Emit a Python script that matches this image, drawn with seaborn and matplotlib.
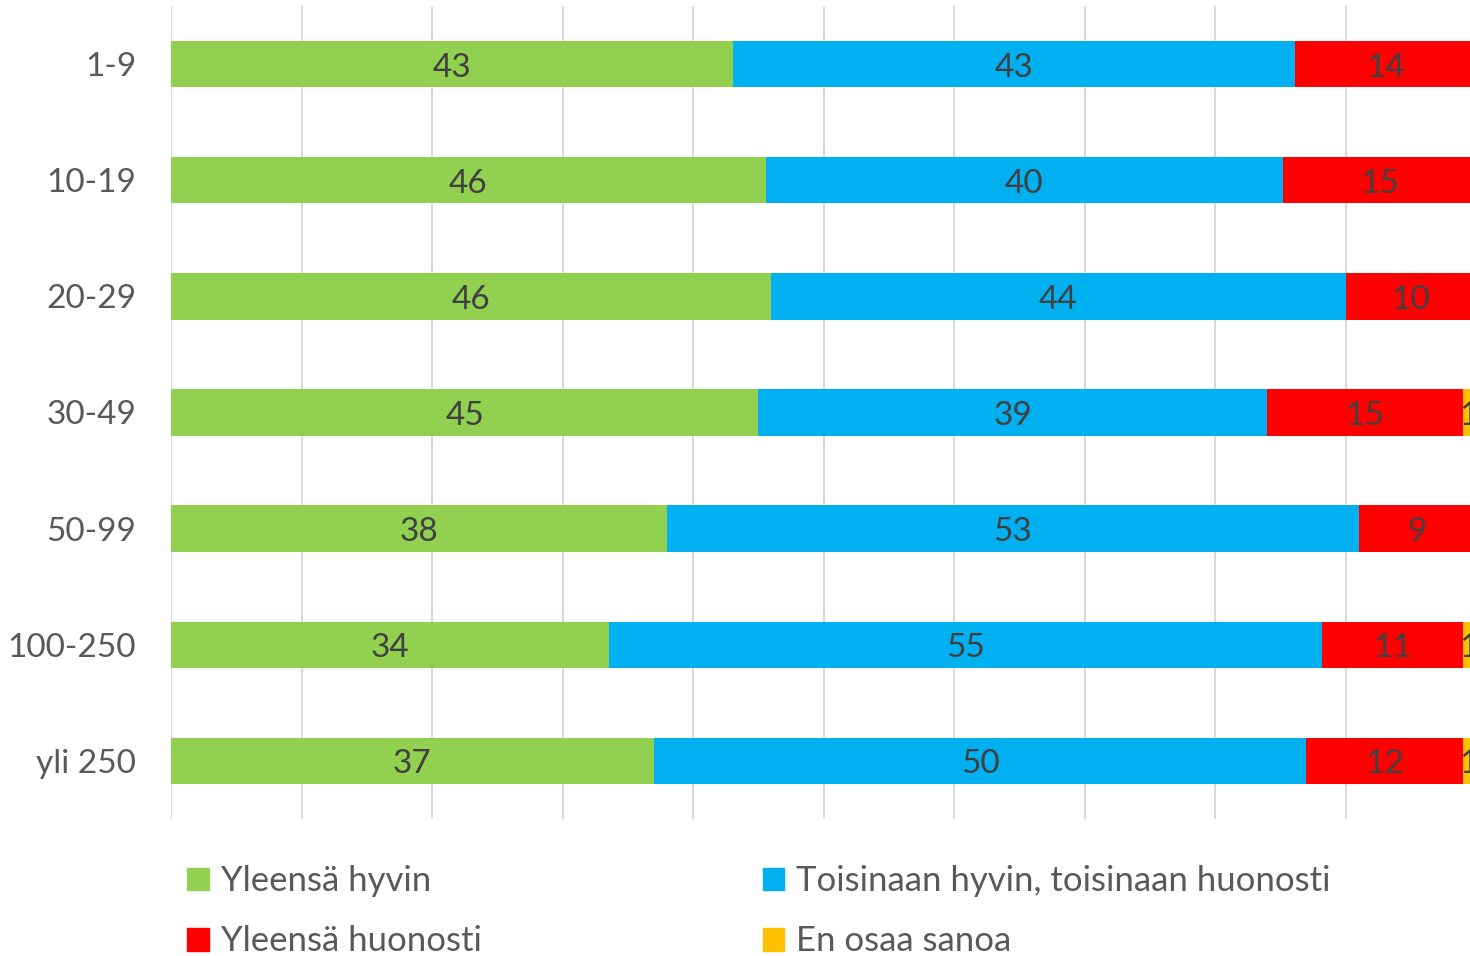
import numpy as np
import matplotlib
matplotlib.use('Agg')
import matplotlib.pyplot as plt
import seaborn as sns
import pandas as pd

CATEGORIES = ['1-9', '10-19', '20-29', '30-49', '50-99', '100-250', 'yli 250']
SERIES = ['Yleensä hyvin', 'Toisinaan hyvin, toisinaan huonosti', 'Yleensä huonosti', 'En osaa sanoa']
COLORS = ['#92D050', '#00B0F0', '#FF0000', '#FFC000']

hyvin = [43.1, 45.6, 46.0, 45.0, 38.0, 33.6, 37.0]
toisinaan = [43.0, 39.6, 44.0, 39.0, 53.0, 54.6, 50.0]
huonosti = [13.9, 14.8, 10.0, 15.0, 9.0, 10.8, 12.0]
en_osaa = [0.0, 0.0, 0.0, 1.0, 0.0, 1.0, 1.0]

sns.set_theme(style='white')
plt.rcParams['font.family'] = ['Lato', 'DejaVu Sans']

vals = np.array([hyvin, toisinaan, huonosti, en_osaa])
cum = vals.cumsum(axis=0)

fig = plt.figure(figsize=(14.7, 9.56), dpi=100)
ax = fig.add_axes([171 / 1470, 1 - 819 / 956, 1305 / 1470, 813 / 956])

# overlapping cumulative bars, widest first
for i in range(3, -1, -1):
    df = pd.DataFrame({'cat': CATEGORIES, 'x': cum[i]})
    sns.barplot(data=df, x='x', y='cat', color=COLORS[i], saturation=1, width=0.4,
                orient='h', errorbar=None, ax=ax, zorder=3, linewidth=0)

for i in range(4):
    for j in range(len(CATEGORIES)):
        v = vals[i, j]
        if v <= 0:
            continue
        ax.text(cum[i, j] - v / 2, j + 0.03, f'{round(v):.0f}', ha='center', va='center',
                fontsize=24, color='#404040', zorder=5)

ax.set_xlim(0, 100)
ax.set_ylim(6.5, -0.5)
ax.set_xticks(np.arange(0, 101, 10))
ax.set_xticklabels([])
ax.xaxis.grid(True, color='#d9d9d9', linewidth=1.5, zorder=0)
ax.set_xlabel('')
ax.set_ylabel('')
for s in ax.spines.values():
    s.set_visible(False)
ax.tick_params(axis='y', length=0, pad=25, labelsize=24, labelcolor='#595959')
ax.tick_params(axis='x', length=0)

patches = [plt.Rectangle((0, 0), 1, 1, color=c) for c in COLORS]
order = [0, 2, 1, 3]
fig.legend([patches[k] for k in order], [SERIES[k] for k in order], ncol=2,
           loc='upper left', bbox_to_anchor=(187 / 1470, 1 - 865 / 956),
           frameon=False, fontsize=25, handlelength=0.62, handleheight=0.62,
           handletextpad=0.35, columnspacing=8.1, labelspacing=0.82,
           borderpad=0, borderaxespad=0, labelcolor='#595959')

fig.savefig('out.png', dpi=100)
